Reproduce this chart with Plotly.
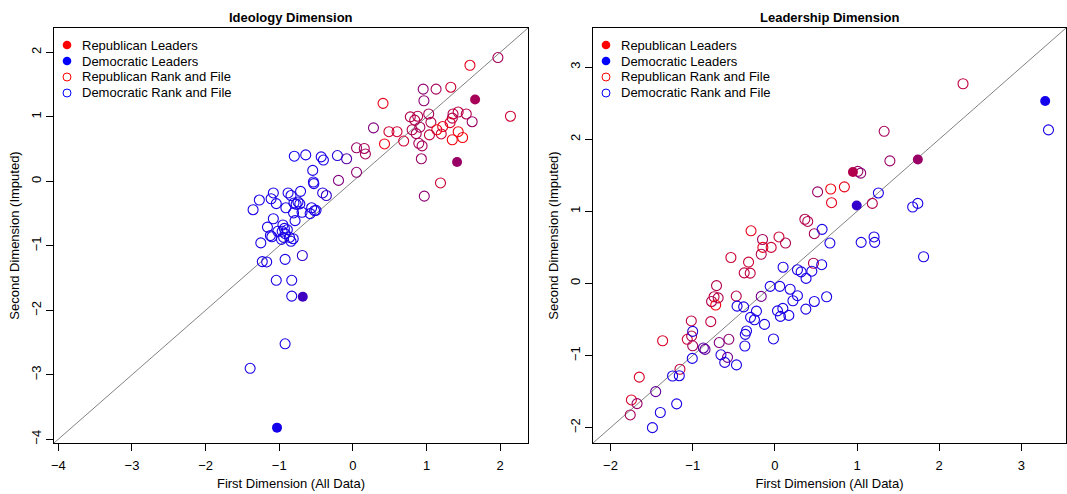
import plotly.graph_objects as go

# ---------------- Ideology Dimension ----------------
ideo_rep_x = [1.97, 1.59, 0.955, 1.13, 1.33, 0.965, 0.41, 2.14, 0.28, 0.78, 0.88, 1.03, 0.84, 1.06,
              1.36, 1.43, 1.54, 1.35, 1.62, 1.32, 1.22, 1.14, 0.91, 0.805, 0.49, 0.60, 1.43, 1.20,
              1.04, 0.86, 1.35, 1.49, 0.43, 0.69, 0.895, 0.94, 0.05, 0.155, 0.17, 0.93, 0.05,
              -0.195, 1.19, 0.97]
ideo_rep_y = [1.92, 1.80, 1.43, 1.43, 1.46, 1.25, 1.21, 1.01, 0.83, 1.00, 1.01, 1.045, 0.95, 0.915,
              1.045, 1.075, 1.045, 0.98, 0.925, 0.91, 0.85, 0.80, 0.84, 0.80, 0.77, 0.77, 0.77, 0.735,
              0.72, 0.74, 0.645, 0.68, 0.58, 0.625, 0.59, 0.55, 0.52, 0.51, 0.425, 0.35, 0.14,
              0.015, -0.025, -0.23]
ideo_rep_shade = [0.35, 0.1, 0.45, 0.35, 0.2, 0.45, 0.1, 0.2, 0.5, 0.3, 0.3, 0.35, 0.3, 0.3,
                  0.3, 0.25, 0.3, 0.3, 0.4, 0.15, 0.1, 0.05, 0.35, 0.3, 0.2, 0.2, 0.05, 0.2,
                  0.25, 0.35, 0.05, 0.05, 0.05, 0.2, 0.35, 0.35, 0.4, 0.35, 0.35, 0.4, 0.45,
                  0.5, 0.2, 0.45]

ideo_dem_x = [-0.085, -0.795, -0.64, -0.43, -0.40, -0.21, -0.545, -0.536, -0.53, -0.71, -0.88, -0.84,
              -0.41, -0.36, -0.91, -0.80, -0.745, -0.72, -0.77, -0.805, -0.69, -0.56, -0.52, -0.50,
              -0.58, -0.785, -1.08, -1.27, -1.11, -1.04, -1.355, -1.08, -1.16, -0.95, -0.93, -1.02,
              -0.96, -0.92, -0.89, -1.12, -1.10, -0.97, -0.86, -0.84, -0.81, -0.94, -1.25, -1.23,
              -1.17, -0.92, -0.686, -1.04, -0.83, -0.83, -0.92, -1.395]
ideo_dem_y = [0.35, 0.39, 0.41, 0.38, 0.33, 0.40, 0.17, -0.01, -0.035, -0.155, -0.18, -0.22,
              -0.18, -0.22, -0.41, -0.335, -0.32, -0.35, -0.355, -0.49, -0.48, -0.41, -0.455, -0.45,
              -0.50, -0.61, -0.18, -0.29, -0.27, -0.345, -0.44, -0.58, -0.71, -0.676, -0.73, -0.775,
              -0.775, -0.81, -0.75, -0.84, -0.86, -0.90, -0.87, -0.93, -0.89, -0.87, -0.955, -1.245,
              -1.25, -1.21, -1.15, -1.535, -1.535, -1.78, -2.52, -2.90]
ideo_dem_shade = [0.65, 0.95, 0.9, 0.9, 0.9, 0.85, 0.9, 0.9, 0.9, 0.9, 0.9, 0.9,
                  0.85, 0.8, 0.9, 0.9, 0.9, 0.9, 0.9, 0.9, 0.9, 0.9, 0.9, 0.9,
                  0.9, 0.9, 0.9, 0.9, 0.9, 0.9, 0.9, 0.9, 0.9, 0.9, 0.9, 0.9,
                  0.9, 0.9, 0.9, 0.9, 0.9, 0.9, 0.9, 0.9, 0.9, 0.9, 0.9, 0.9,
                  0.9, 0.9, 0.8, 0.9, 0.9, 0.9, 0.9, 0.9]

ideo_lead_x = [1.66, 1.415, -0.68, -1.03]
ideo_lead_y = [1.27, 0.30, -1.79, -3.82]
ideo_lead_shade = [0.35, 0.4, 0.75, 0.92]

# ---------------- Leadership Dimension ----------------
lead_rep_x = [2.29, 1.33, 1.40, 1.01, 1.045, 0.846, 1.186, 0.52, 0.68, 0.69, 0.365, 0.40, 0.48,
              -0.29, -0.15, 0.05, 0.13, -0.146, -0.045, -0.166, -0.535, -0.32, -0.373, -0.30,
              0.47, -0.71, -0.74, -0.69, -0.77, -0.72, -0.47, -1.017, -0.78, -1.066, -1.013,
              -1.366, -1.00, -0.677, -0.56, -1.155, -1.65, -1.746, -1.677, -1.76]
lead_rep_y = [2.77, 2.11, 1.70, 1.555, 1.53, 1.34, 1.11, 1.27, 1.31, 1.12, 0.89, 0.86, 0.69,
              0.73, 0.61, 0.645, 0.56, 0.50, 0.50, 0.405, 0.36, 0.295, 0.147, 0.143,
              0.28, -0.03, -0.185, -0.20, -0.25, -0.30, -0.175, -0.52, -0.53, -0.775, -0.73,
              -0.795, -0.865, -0.82, -0.775, -1.19, -1.30, -1.616, -1.667, -1.824]
lead_rep_shade = [0.25, 0.35, 0.4, 0.4, 0.45, 0.1, 0.3, 0.4, 0.05, 0.1, 0.3, 0.3, 0.35,
                  0.1, 0.35, 0.2, 0.3, 0.1, 0.2, 0.3, 0.2, 0.2, 0.25, 0.25,
                  0.3, 0.3, 0.25, 0.3, 0.3, 0.05, 0.3, 0.25, 0.25, 0.2, 0.3,
                  0.15, 0.35, 0.5, 0.45, 0.25, 0.15, 0.15, 0.4, 0.35]

lead_dem_x = [-0.166, -0.576, -0.87, -0.85, -1.45, -0.656, -0.61, -0.467, 0.575, 0.67, 0.10, 0.275,
              0.32, 0.38, 0.45, 0.57, -0.057, 0.06, 0.186, 0.275, 0.22, 0.48, 0.63, -0.46, -0.38,
              -0.224, -0.296, -0.248, 0.032, 0.097, 0.068, 0.17, 0.377, -0.126, -0.345, -0.36,
              -0.017, -0.365, -1.00, -1.005, -1.245, -1.163, -1.195, -1.394, -1.49, 1.05, 1.207,
              1.215, 1.81, 1.26, 1.677, 1.74, 3.33]
lead_dem_y = [-0.18, -1.025, -0.895, -0.915, -1.50, -0.99, -1.095, -1.13, 0.75, 0.56, 0.225, 0.19,
              0.16, 0.07, 0.17, 0.26, -0.04, -0.04, -0.08, -0.17, -0.24, -0.25, -0.185, -0.315, -0.325,
              -0.384, -0.47, -0.504, -0.38, -0.346, -0.457, -0.443, -0.356, -0.568, -0.66, -0.706,
              -0.77, -0.868, -0.665, -1.04, -1.284, -1.28, -1.67, -1.79, -2.0, 0.57, 0.645,
              0.57, 0.37, 1.255, 1.06, 1.11, 2.13]
lead_dem_shade = [0.55, 0.55, 0.65, 0.6, 0.6, 0.85, 0.85, 0.9, 0.9, 0.9, 0.9, 0.9,
                  0.9, 0.9, 0.9, 0.9, 0.9, 0.9, 0.9, 0.9, 0.9, 0.9, 0.9, 0.9, 0.9,
                  0.9, 0.9, 0.9, 0.9, 0.9, 0.9, 0.9, 0.9, 0.9, 0.9, 0.9,
                  0.9, 0.9, 0.85, 0.9, 0.9, 0.9, 0.9, 0.9, 0.9, 0.9, 0.9,
                  0.9, 0.9, 0.9, 0.9, 0.9, 0.9]

lead_lead_x = [1.74, 0.95, 0.996, 3.29]
lead_lead_y = [1.72, 1.545, 1.08, 2.53]
lead_lead_shade = [0.4, 0.3, 0.8, 0.92]

panel_titles = ["Ideology Dimension", "Leadership Dimension"]
legend_labels = ["Republican Leaders", "Democratic Leaders",
                 "Republican Rank and File", "Democratic Rank and File"]
legend_colors = ["rgb(255,0,0)", "rgb(0,0,255)", "rgb(255,0,0)", "rgb(0,0,255)"]
legend_filled = [True, True, False, False]
x_title = "First Dimension (All Data)"
y_title = "Second Dimension (Imputed)"

FONT = "Liberation Sans, Arial, Helvetica, sans-serif"


def col(t):
    return f"rgb({round(255 * (1 - t))},0,{round(255 * t)})"


panels = [
    dict(rf=[(ideo_rep_x, ideo_rep_y, ideo_rep_shade), (ideo_dem_x, ideo_dem_y, ideo_dem_shade)],
         lead=(ideo_lead_x, ideo_lead_y, ideo_lead_shade)),
    dict(rf=[(lead_rep_x, lead_rep_y, lead_rep_shade), (lead_dem_x, lead_dem_y, lead_dem_shade)],
         lead=(lead_lead_x, lead_lead_y, lead_lead_shade)),
]

W, H = 1067, 494
x_px = [(54, 528), (593, 1066)]
x_domains = [[a / W, b / W] for a, b in x_px]
y_domain = [(H - 443) / H, (H - 28) / H]

fig = go.Figure()
ranges = []
for i, p in enumerate(panels):
    xa = "x" if i == 0 else "x2"
    ya = "y" if i == 0 else "y2"
    allv = []
    for xs, ys, _ in p["rf"]:
        allv += xs + ys
    allv += p["lead"][0] + p["lead"][1]
    lo, hi = min(allv), max(allv)
    ext = 0.04 * (hi - lo)
    rng = [lo - ext, hi + ext]
    ranges.append(rng)

    # 45-degree reference line across the full (equal) range
    fig.add_trace(go.Scatter(x=rng, y=rng, mode="lines", xaxis=xa, yaxis=ya,
                             line=dict(color="rgb(130,130,130)", width=1),
                             showlegend=False, hoverinfo="skip"))
    for xs, ys, sh in p["rf"]:
        fig.add_trace(go.Scatter(x=xs, y=ys, mode="markers", xaxis=xa, yaxis=ya,
                                 marker=dict(symbol="circle-open", size=10,
                                             color=[col(t) for t in sh],
                                             line=dict(width=1.1)),
                                 showlegend=False))
    lx, ly, ls = p["lead"]
    fig.add_trace(go.Scatter(x=lx, y=ly, mode="markers", xaxis=xa, yaxis=ya,
                             marker=dict(symbol="circle", size=10,
                                         color=[col(t) for t in ls],
                                         line=dict(width=0)),
                             showlegend=False))

axis_common = dict(showgrid=False, zeroline=False, showline=True, mirror=True,
                   linecolor="black", linewidth=1, ticks="outside", ticklen=7,
                   tickcolor="black", tickwidth=1, dtick=1,
                   tickfont=dict(family=FONT, size=13, color="black"), automargin=False)

layout = dict(
    width=W, height=H, margin=dict(l=0, r=0, t=0, b=0),
    paper_bgcolor="white", plot_bgcolor="white",
    font=dict(family=FONT, size=13, color="black"),
    showlegend=False,
)
for i in range(2):
    sx = "" if i == 0 else "2"
    layout["xaxis" + sx] = dict(axis_common, domain=x_domains[i], range=ranges[i],
                                anchor="y" + sx, ticklabelstandoff=3,
                                title=dict(text=x_title, standoff=7,
                                           font=dict(family=FONT, size=13)))
    layout["yaxis" + sx] = dict(axis_common, domain=y_domain, range=ranges[i],
                                anchor="x" + sx, tickangle=-90,
                                title=dict(text=y_title, standoff=6,
                                           font=dict(family=FONT, size=13)))

annotations = []
shapes = []
for i, t in enumerate(panel_titles):
    cx = (x_domains[i][0] + x_domains[i][1]) / 2
    annotations.append(dict(text=f"<b>{t}</b>", x=cx, y=(H - 17) / H, xref="paper", yref="paper",
                            showarrow=False, xanchor="center", yanchor="middle",
                            font=dict(family=FONT, size=13, color="black")))
    # manual legend (R-style, no box): key circle + label, 16 px per row
    text_x = x_px[i][0] + 26
    key_x = x_px[i][0] + 13
    for k, (lab, c, filled) in enumerate(zip(legend_labels, legend_colors, legend_filled)):
        row_y = 45 + 16 * k
        annotations.append(dict(text=lab, x=text_x / W, y=(H - row_y) / H, xref="paper",
                                yref="paper", showarrow=False, xanchor="left", yanchor="middle",
                                font=dict(family=FONT, size=13, color="black")))
        r = 4.3 if filled else 4.0
        shapes.append(dict(type="circle", xref="paper", yref="paper",
                           x0=(key_x - r) / W, x1=(key_x + r) / W,
                           y0=(H - row_y - r) / H, y1=(H - row_y + r) / H,
                           fillcolor=c if filled else "rgba(0,0,0,0)",
                           line=dict(color=c, width=0 if filled else 1)))
layout["annotations"] = annotations
layout["shapes"] = shapes

fig.update_layout(**layout)
fig.write_html("out.html")
